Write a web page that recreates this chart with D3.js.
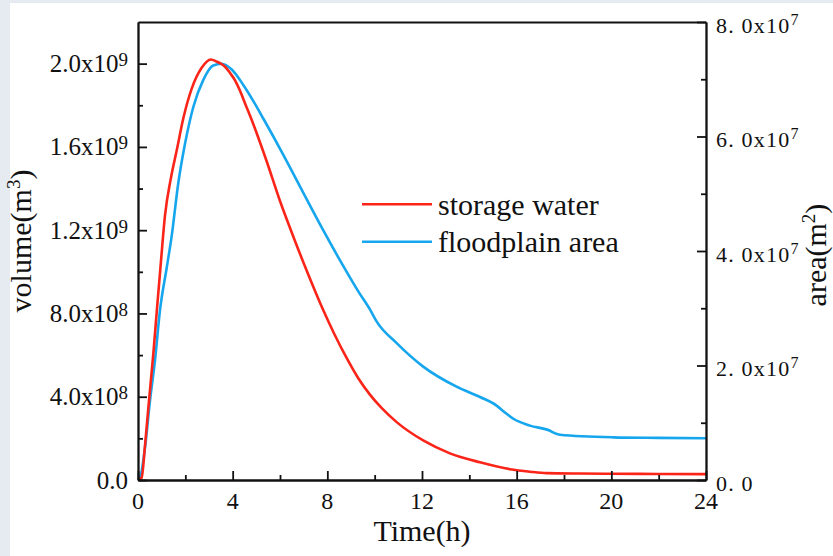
<!DOCTYPE html>
<html>
<head>
<meta charset="utf-8">
<script src="https://cdn.jsdelivr.net/npm/d3@7"></script>
<style>
  html, body { margin: 0; padding: 0; background: #e6eaf1; }
  svg { display: block; }
</style>
</head>
<body>
<div id="chart"></div>
<script>
// storage water, volume in 1e9 m3 (left axis)
var volTime = [0, 0.15, 0.3, 0.44, 0.65, 0.8, 0.97, 1.14, 1.39, 1.63, 1.92, 2.27, 2.69, 3.08, 3.32, 3.5, 3.68, 3.89, 4.1, 4.31, 4.52, 4.87, 5.44, 6.0, 6.56, 7.13, 7.83, 8.3, 8.82, 9.3, 9.8, 10.3, 10.93, 12.05, 13.18, 14.45, 15.72, 16.56, 17.27, 18.67, 20, 22, 24];
var volume = [0, 0.01, 0.17, 0.35, 0.61, 0.82, 1.05, 1.27, 1.45, 1.58, 1.74, 1.88, 1.98, 2.02, 2.01, 2.0, 1.985, 1.955, 1.92, 1.87, 1.81, 1.71, 1.53, 1.34, 1.17, 1.005, 0.815, 0.7, 0.585, 0.49, 0.41, 0.345, 0.278, 0.19, 0.128, 0.085, 0.052, 0.04, 0.033, 0.031, 0.03, 0.029, 0.028];

// floodplain area in 1e7 m2 (right axis)
var areaTime = [0, 0.08, 0.3, 0.51, 0.72, 0.93, 1.21, 1.42, 1.7, 1.99, 2.34, 2.76, 3.18, 3.53, 3.96, 4.45, 4.9, 5.3, 6.14, 6.98, 7.83, 8.67, 9.3, 9.8, 10.08, 10.93, 12.05, 13.46, 14.45, 15.15, 15.5, 15.86, 16.56, 17.41, 17.6, 17.83, 20.08, 22, 24];
var area = [0, 0.03, 0.58, 1.4, 2.1, 2.97, 3.7, 4.25, 5.18, 5.88, 6.52, 6.99, 7.24, 7.27, 7.17, 6.9, 6.6, 6.31, 5.68, 5.02, 4.36, 3.74, 3.3, 2.98, 2.77, 2.39, 1.98, 1.63, 1.45, 1.3, 1.18, 1.07, 0.95, 0.86, 0.82, 0.79, 0.745, 0.735, 0.728];

// ticks
var xTicks = [0, 4, 8, 12, 16, 20, 24];
var xMinorTicks = [2, 6, 10, 14, 18, 22];
var leftTicks = [0, 0.4, 0.8, 1.2, 1.6, 2.0];
var leftMinorTicks = [0.2, 0.6, 1.0, 1.4, 1.8];
var leftTickText = ["0.0", "4.0x10", "8.0x10", "1.2x10", "1.6x10", "2.0x10"];
var leftTickExp = ["", "8", "8", "9", "9", "9"];
var rightTicks = [0, 2, 4, 6, 8];
var rightMinorTicks = [1, 3, 5, 7];
var rightTickText = ["0. 0", "2. 0x10", "4. 0x10", "6. 0x10", "8. 0x10"];
var rightTickExp = ["", "7", "7", "7", "7"];

var seriesNames = ["storage water", "floodplain area"];
var seriesColors = ["#fb2418", "#16a6ee"];

var W = 833, H = 556;
var plotLeft = 138, plotRight = 706, plotTop = 22, plotBottom = 480;
var serif = "'Liberation Serif', 'Times New Roman', serif";

var svg = d3.select("#chart").append("svg")
    .attr("width", W)
    .attr("height", H);

// white panel
svg.append("rect")
    .attr("x", 10).attr("y", 3)
    .attr("width", W - 10).attr("height", H - 3)
    .attr("fill", "#ffffff");

var x = d3.scaleLinear().domain([0, 24]).range([plotLeft, plotRight]);
var yL = d3.scaleLinear().domain([0, 2.2]).range([plotBottom, plotTop]);
var yR = d3.scaleLinear().domain([0, 8]).range([plotBottom, plotTop]);

// curves
var volLine = d3.line()
    .x((d, i) => x(volTime[i]))
    .y(d => yL(d))
    .curve(d3.curveMonotoneX);

var areaLine = d3.line()
    .x((d, i) => x(areaTime[i]))
    .y(d => yR(d))
    .curve(d3.curveMonotoneX);

svg.append("path")
    .attr("d", areaLine(area))
    .attr("fill", "none")
    .attr("stroke", seriesColors[1])
    .attr("stroke-width", 2.6);

svg.append("path")
    .attr("d", volLine(volume))
    .attr("fill", "none")
    .attr("stroke", seriesColors[0])
    .attr("stroke-width", 2.6);

// axes, ticks point inward
function styleAxis(g) {
    g.selectAll("path, line").attr("stroke", "#111").attr("stroke-width", 1.8);
    g.selectAll("text").remove();
}

svg.append("g").attr("transform", "translate(0," + plotBottom + ")")
    .call(d3.axisBottom(x).tickValues(xTicks).tickSize(-9).tickSizeOuter(0).tickFormat(""))
    .call(styleAxis);
svg.append("g").attr("transform", "translate(0," + plotBottom + ")")
    .call(d3.axisBottom(x).tickValues(xMinorTicks).tickSize(-5).tickSizeOuter(0).tickFormat(""))
    .call(styleAxis);

svg.append("g").attr("transform", "translate(" + plotLeft + ",0)")
    .call(d3.axisLeft(yL).tickValues(leftTicks).tickSize(-9).tickSizeOuter(0).tickFormat(""))
    .call(styleAxis);
svg.append("g").attr("transform", "translate(" + plotLeft + ",0)")
    .call(d3.axisLeft(yL).tickValues(leftMinorTicks).tickSize(-5).tickSizeOuter(0).tickFormat(""))
    .call(styleAxis);

svg.append("g").attr("transform", "translate(" + plotRight + ",0)")
    .call(d3.axisRight(yR).tickValues(rightTicks).tickSize(-9).tickSizeOuter(0).tickFormat(""))
    .call(styleAxis);
svg.append("g").attr("transform", "translate(" + plotRight + ",0)")
    .call(d3.axisRight(yR).tickValues(rightMinorTicks).tickSize(-5).tickSizeOuter(0).tickFormat(""))
    .call(styleAxis);

// top frame line
svg.append("g").attr("transform", "translate(0," + plotTop + ")")
    .call(d3.axisTop(x).tickValues([]).tickSizeOuter(0))
    .call(styleAxis);

// tick labels
svg.append("g").selectAll("text")
    .data(xTicks)
    .join("text")
    .attr("x", d => x(d))
    .attr("y", plotBottom + 28.5)
    .attr("text-anchor", "middle")
    .style("font-family", serif)
    .style("font-size", "24px")
    .attr("fill", "#111")
    .text(d => d);

svg.append("g").selectAll("text")
    .data(leftTicks)
    .join("text")
    .attr("x", 128)
    .attr("y", d => yL(d) + 8.5)
    .attr("text-anchor", "end")
    .style("font-family", serif)
    .style("font-size", "25px")
    .attr("fill", "#111")
    .each(function(d, i) {
        var t = d3.select(this);
        t.append("tspan").text(leftTickText[i]);
        if (leftTickExp[i]) {
            t.append("tspan").attr("dy", -6).style("font-size", "19px").text(leftTickExp[i]);
        }
    });

svg.append("g").selectAll("text")
    .data(rightTicks)
    .join("text")
    .attr("x", 716)
    .attr("y", d => yR(d) + 10.5)
    .style("font-family", serif)
    .style("font-size", "22px")
    .style("letter-spacing", "1.2px")
    .attr("fill", "#111")
    .each(function(d, i) {
        var t = d3.select(this);
        t.append("tspan").text(rightTickText[i]);
        if (rightTickExp[i]) {
            t.append("tspan").attr("dy", -8).style("font-size", "16px").text(rightTickExp[i]);
        }
    });

// axis titles
svg.append("text")
    .attr("x", (plotLeft + plotRight) / 2)
    .attr("y", 541)
    .attr("text-anchor", "middle")
    .style("font-family", serif)
    .style("font-size", "30px")
    .attr("fill", "#111")
    .text("Time(h)");

var volTitle = svg.append("text")
    .attr("transform", "translate(31,241) rotate(-90)")
    .attr("text-anchor", "middle")
    .style("font-family", serif)
    .style("font-size", "30px")
    .attr("fill", "#111");
volTitle.append("tspan").text("volume(m");
volTitle.append("tspan").attr("dy", -11).style("font-size", "19px").text("3");
volTitle.append("tspan").attr("dy", 11).text(")");

var areaTitle = svg.append("text")
    .attr("transform", "translate(826,255) rotate(-90)")
    .attr("text-anchor", "middle")
    .style("font-family", serif)
    .style("font-size", "30px")
    .attr("fill", "#111");
areaTitle.append("tspan").text("area(m");
areaTitle.append("tspan").attr("dy", -11).style("font-size", "19px").text("2");
areaTitle.append("tspan").attr("dy", 11).text(")");

// legend
var legend = svg.append("g").selectAll("g")
    .data(seriesNames)
    .join("g")
    .attr("transform", (d, i) => "translate(362," + (204.3 + i * 37.4) + ")");

legend.append("line")
    .attr("x1", 0).attr("x2", 70)
    .attr("stroke", (d, i) => seriesColors[i])
    .attr("stroke-width", 2.6);

legend.append("text")
    .attr("x", 76)
    .attr("y", 10.5)
    .style("font-family", serif)
    .style("font-size", "30px")
    .attr("fill", "#111")
    .text(d => d);
</script>
</body>
</html>
